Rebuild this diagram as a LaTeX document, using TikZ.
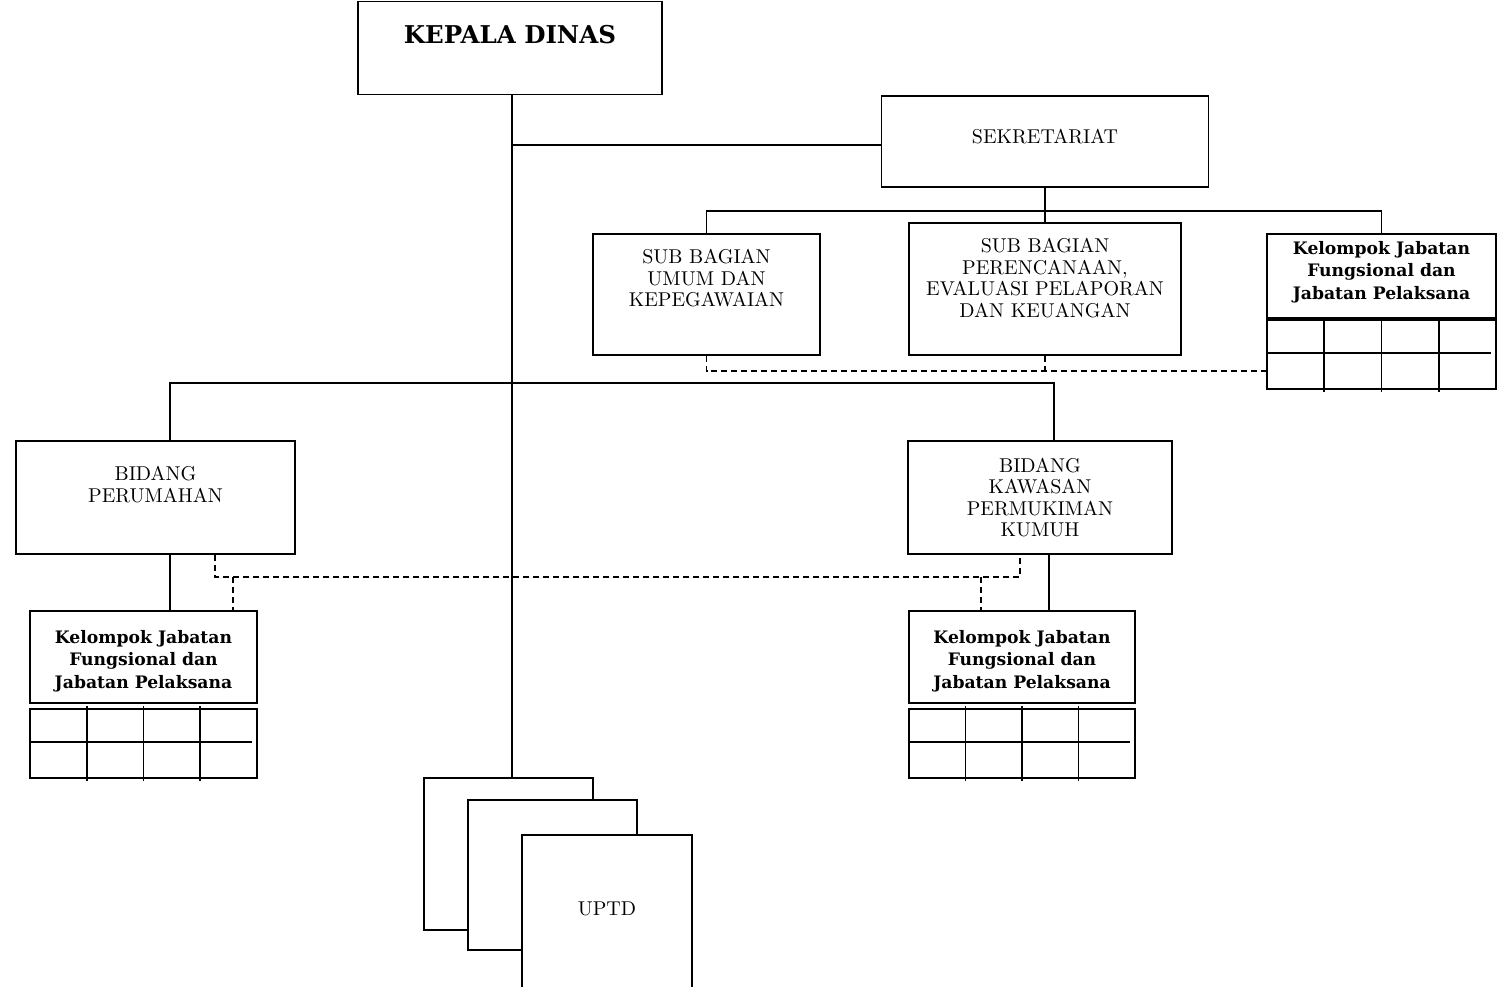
\documentclass[tikz,border=0pt]{standalone}
\usepackage{fontspec}
\setmainfont{lmroman10-regular}[Extension=.otf, BoldFont=lmroman10-bold]
\newfontfamily\kjfont{DejaVu Serif}
\begin{document}
\begin{tikzpicture}[x=1pt, y=-1pt,
		unit/.style={draw, line width=1.6pt, fill=white, inner sep=0pt},
		link/.style={line width=1.6pt},
		staff/.style={line width=1.4pt, dash pattern=on 6pt off 4pt},
		unitText/.style={align=center, inner sep=0pt, font=\fontsize{20}{21.5}\selectfont},
		staffText/.style={align=center, inner sep=0pt, font=\kjfont\bfseries\fontsize{17.2}{22.5}\selectfont},
		headText/.style={inner sep=0pt, font=\kjfont\bfseries\fontsize{24.5}{28}\selectfont}]
	\useasboundingbox (0,0) rectangle (1501,986);
	\newcommand{\unitBox}[7]{
		% draws one unit of the chart
		% args:
		%     name
		%     center
		%     width, height
		%     shift of the text (up)
		%     text style
		%     text
		\node[unit, minimum width=#3, minimum height=#4] (#1) at (#2) {};
		\node[#6] (#1Text) at ([yshift=#5]#1.center) {#7};
	}
	\newcommand{\staffGrid}[3]{
		% args:
		%     left, top
		%     width
		\draw[line width=1.6pt] (#1,#2) rectangle ++(#3,69);
		\foreach \i in {1,2,3}
			\draw[line width=1.6pt] ({#1+\i*#3/4},{#2-3}) -- ++(0,75);
		\draw[line width=1.6pt] (#1,#2+33) -- ++(#3-5,0);
	}
	% head and secretariat
	\unitBox{kd}{510,48}{304}{93}{13.5pt}{headText}{KEPALA DINAS}
	\unitBox{sek}{1045,141.5}{327}{91}{4.5pt}{unitText}{SEKRETARIAT}
	\unitBox{sbu}{706.5,294.5}{227}{121}{16pt}{unitText}{SUB BAGIAN\\UMUM DAN\\KEPEGAWAIAN}
	\unitBox{sbp}{1045,289}{272}{132}{11pt}{unitText}{SUB BAGIAN\\PERENCANAAN,\\EVALUASI PELAPORAN\\DAN KEUANGAN}
	\unitBox{kjs}{1381.5,276}{229}{84}{4pt}{staffText}{Kelompok Jabatan\\Fungsional dan\\Jabatan Pelaksana}
	\staffGrid{1267}{320}{229}
	% bidang
	\unitBox{bp}{155.5,497.5}{279}{113}{13pt}{unitText}{BIDANG\\PERUMAHAN}
	\unitBox{kkb}{1040,497.5}{264}{113}{0pt}{unitText}{BIDANG\\KAWASAN\\PERMUKIMAN\\KUMUH}
	\unitBox{kjl}{143.5,657}{227}{92}{-4pt}{staffText}{Kelompok Jabatan\\Fungsional dan\\Jabatan Pelaksana}
	\unitBox{kjr}{1022,657}{226}{92}{-4pt}{staffText}{Kelompok Jabatan\\Fungsional dan\\Jabatan Pelaksana}
	\staffGrid{30}{709}{227}
	\staffGrid{909}{709}{226}
	% uptd, stacked
	\unitBox{uptdA}{508.5,854}{169}{152}{0pt}{unitText}{}
	\unitBox{uptdB}{552.5,875}{169}{150}{0pt}{unitText}{}
	\unitBox{uptdC}{607,917.5}{170}{165}{8.5pt}{unitText}{UPTD}
	% solid lines
	\coordinate (spine) at (512,95);
	\coordinate (sekIn) at (881,145);
	\coordinate (sekBus) at (1045,211);
	\coordinate (bidL) at (170,383);
	\coordinate (bidR) at (1054,383);
	\coordinate (kkbDrop) at (1049,0);
	\draw[link] (spine) -- (spine |- uptdA.north);
	\draw[link] (spine |- sekIn) -- (sekIn);
	\draw[link] (sek.south) -- (sbp.north);
	\draw[link] (sbu.north) |- (sekBus) -| (kjs.north);
	\draw[link] (bidL |- bp.north) -- (bidL) -- (bidR) -- (bidR |- kkb.north);
	\draw[link] (bidL |- bp.south) -- (bidL |- kjl.north);
	\draw[link] (kkbDrop |- kkb.south) -- (kkbDrop |- kjr.north);
	% dashed lines
	\coordinate (staffS) at (1266,371);
	\coordinate (dL) at (215,577);
	\coordinate (dR) at (1020,577);
	\coordinate (dL2) at (233,577);
	\coordinate (dR2) at (981,577);
	\draw[staff] (sbu.south) |- (staffS);
	\draw[staff] (sbp.south) -- (sbp.south |- staffS);
	\draw[staff] (dL |- bp.south) -- (dL) -- (dR) -- (dR |- kkb.south);
	\draw[staff] (dL2) -- (dL2 |- kjl.north);
	\draw[staff] (dR2) -- (dR2 |- kjr.north);
\end{tikzpicture}
\end{document}
